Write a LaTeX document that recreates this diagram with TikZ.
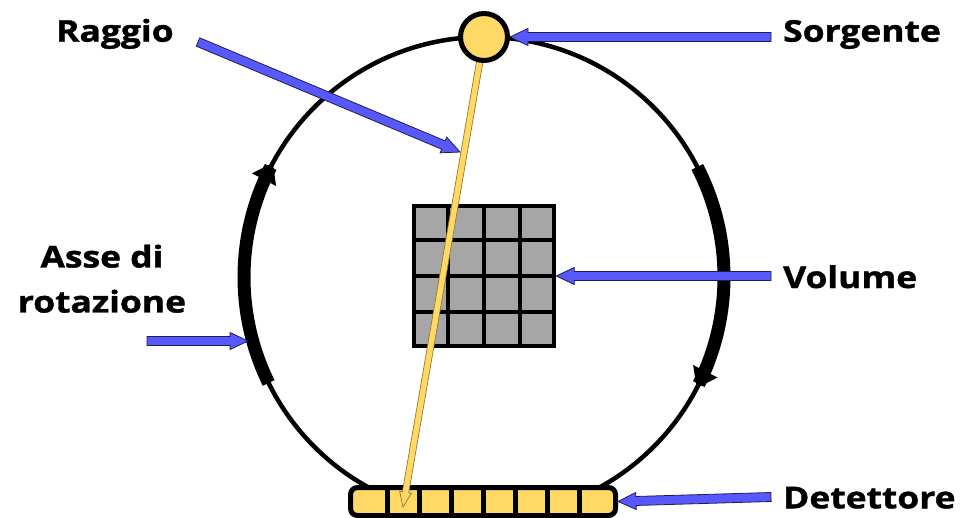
\documentclass[tikz,border=0pt]{standalone}
\usepackage{fontspec}
\newfontfamily\lblfont{Open Sans}[FakeStretch=1.18,FakeBold=1.3]
\usetikzlibrary{arrows.meta,calc}
\definecolor{ablue}{RGB}{88,88,255}
\definecolor{aedge}{RGB}{30,30,80}
\definecolor{gold}{RGB}{255,217,102}
\definecolor{beamedge}{RGB}{150,120,40}
\definecolor{cellgray}{RGB}{166,166,166}
% #1 style, #2 from, #3 to, #4 half shaft, #5 half head, #6 head length
\newcommand\blockarrow[6]{%
  \coordinate (ba-h) at ($(#3)!#6!(#2)$);
  \filldraw[#1] ($(#2)!#4!90:(#3)$) -- ($(ba-h)!#4!90:(#3)$) -- ($(ba-h)!#5!90:(#3)$)
    -- (#3) -- ($(ba-h)!#5!-90:(#3)$) -- ($(ba-h)!#4!-90:(#3)$) -- ($(#2)!#4!-90:(#3)$) -- cycle;
}
\begin{document}
\begin{tikzpicture}[x=1pt,y=-1pt,
  ring/.style={line width=4.5pt},
  rotarc/.style={line width=13pt,-{Triangle[width=26pt,length=19pt]}},
  pointer/.style={fill=ablue,draw=aedge,line width=0.8pt,line join=miter},
  beamstyle/.style={fill=gold,draw=beamedge,line width=0.7pt,line join=miter},
  lbl/.style={inner sep=0pt,font=\lblfont\bfseries\fontsize{30}{45}\selectfont},
  gridline/.style={line width=4.5pt},
  cellline/.style={line width=5pt}]
\useasboundingbox (0,0) rectangle (961,517);
% gantry ring
\draw[ring] (484,277) circle[radius=240];
% rotation arrows
\draw[rotarc] plot[domain=206.2:151.6,samples=50] ({484+240*cos(\x)},{277-240*sin(\x)});
\draw[rotarc] plot[domain=27.3:-27.6,samples=50] ({484+240*cos(\x)},{277-240*sin(\x)});
% volume grid
\node[draw,line width=4.5pt,fill=cellgray,minimum size=140pt,inner sep=0pt] (vol) at (484,276) {};
\foreach \i in {1,2,3}{
  \draw[gridline] ($(vol.north west)!\i/4!(vol.north east)$) -- ($(vol.south west)!\i/4!(vol.south east)$);
  \draw[gridline] ($(vol.north west)!\i/4!(vol.south west)$) -- ($(vol.north east)!\i/4!(vol.south east)$);
}
% detector
\node[draw,line width=5pt,fill=gold,rounded corners=7pt,minimum width=265pt,minimum height=28pt,inner sep=0pt] (det) at (483,501.5) {};
\foreach \i in {1,...,7}{
  \draw[cellline] ($(det.north)+({32*\i-128},0)$) -- ($(det.south)+({32*\i-128},0)$);
}
% beam
\coordinate (beamtip) at (403,507);
\coordinate (srcc) at (484,37);
\blockarrow{beamstyle}{srcc}{beamtip}{3.2pt}{6pt}{15pt}
% source
\node[circle,draw,line width=5pt,fill=gold,minimum size=47pt,inner sep=0pt] (src) at (484,37) {};
% labels
\node[lbl,anchor=base west] (lsorg) at (783,41.7) {Sorgente};
\node[lbl,anchor=base west] (lragg) at (56,41.7) {Raggio};
\node[lbl,anchor=base west] (lvol) at (783,288) {Volume};
\node[lbl,anchor=base west] (ldet) at (783,508.3) {Detettore};
\node[lbl,anchor=north,align=center] (lasse) at (102,244.5) {Asse di\\rotazione};
% pointer arrows
\coordinate (sorgA) at (771,37);
\coordinate (raggA) at (198,42);
\coordinate (raggB) at (460,152);
\coordinate (volA) at (771,276);
\coordinate (detA) at (771,497);
\coordinate (asseA) at (147,341);
\coordinate (asseB) at (248,341);
\blockarrow{pointer}{sorgA}{src.east}{4.5pt}{8.5pt}{18pt}
\blockarrow{pointer}{raggA}{raggB}{4.5pt}{8.5pt}{18pt}
\blockarrow{pointer}{volA}{vol.east}{4.5pt}{8.5pt}{18pt}
\blockarrow{pointer}{detA}{det.east}{4.5pt}{8.5pt}{18pt}
\blockarrow{pointer}{asseA}{asseB}{4.5pt}{8.5pt}{18pt}
\end{tikzpicture}
\end{document}
